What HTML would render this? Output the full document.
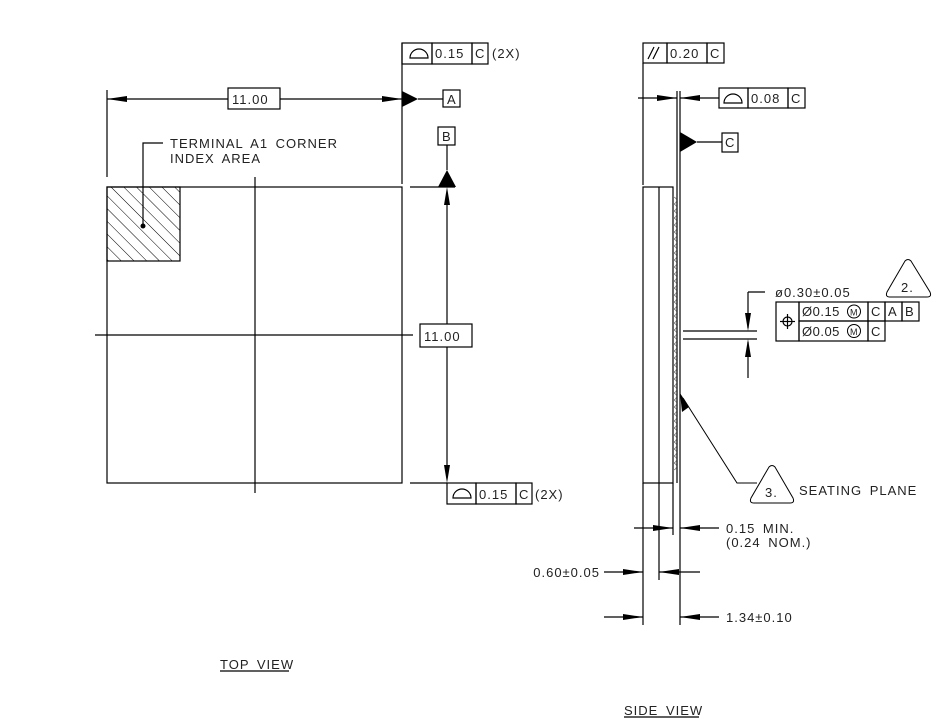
<!DOCTYPE html>
<html><head><meta charset="utf-8"><style>
html,body{margin:0;padding:0;background:#fff;}
svg{display:block;}
text{font-family:"Liberation Sans",sans-serif;font-size:13px;fill:#222;letter-spacing:1px;word-spacing:3px;}
</style></head><body>
<svg width="945" height="726" viewBox="0 0 945 726" xmlns="http://www.w3.org/2000/svg">
<defs>
<pattern id="h" patternUnits="userSpaceOnUse" width="9" height="9" patternTransform="rotate(-45)">
<line x1="0" y1="0" x2="0" y2="9" stroke="#000" stroke-width="1"/>
</pattern>
</defs>
<g stroke="#000" stroke-width="1.2" fill="none">
<rect x="107" y="187" width="295" height="296"/>
<rect x="107" y="187" width="73" height="74" fill="url(#h)"/>
<line x1="255" y1="177" x2="255" y2="493"/>
<line x1="95" y1="335" x2="413" y2="335"/>
<line x1="107" y1="90" x2="107" y2="177"/>
<line x1="107" y1="99" x2="228" y2="99"/>
<line x1="280" y1="99" x2="402" y2="99"/>
<rect x="228" y="88" width="52" height="21"/>
<line x1="402" y1="43" x2="402" y2="184"/>
<rect x="402" y="43" width="30" height="21"/>
<rect x="432" y="43" width="40" height="21"/>
<rect x="472" y="43" width="16" height="21"/>
<path d="M410 58 a9 9 0 0 1 18 0 z"/>
<line x1="418" y1="99" x2="443" y2="99"/>
<rect x="443" y="90" width="17" height="17"/>
<rect x="438" y="127" width="17" height="18"/>
<line x1="447" y1="145" x2="447" y2="170"/>
<line x1="410" y1="187" x2="455" y2="187"/>
<line x1="447" y1="193" x2="447" y2="324"/>
<line x1="447" y1="347" x2="447" y2="478"/>
<rect x="420" y="324" width="52" height="23"/>
<line x1="410" y1="483" x2="447" y2="483"/>
<rect x="447" y="483" width="29" height="21"/>
<rect x="476" y="483" width="40" height="21"/>
<rect x="516" y="483" width="16" height="21"/>
<path d="M453 498 a9 9 0 0 1 18 0 z"/>
<polyline points="163,143 143,143 143,226"/>
<rect x="643" y="187" width="30" height="296"/>
<line x1="659" y1="187" x2="659" y2="580"/>
<line x1="643" y1="483" x2="643" y2="625"/>
<line x1="673" y1="483" x2="673" y2="535"/>
<line x1="677" y1="91" x2="677" y2="483"/>
<line x1="680" y1="91" x2="680" y2="625"/>
<line x1="643" y1="63" x2="643" y2="185"/>
<rect x="643" y="43" width="24" height="20"/>
<rect x="667" y="43" width="40" height="20"/>
<rect x="707" y="43" width="17" height="20"/>
<line x1="648" y1="59" x2="654" y2="47"/><line x1="653" y1="59" x2="659" y2="47"/>
<line x1="638" y1="98" x2="677" y2="98"/>
<line x1="680" y1="98" x2="719" y2="98"/>
<rect x="719" y="88" width="29" height="20"/>
<rect x="748" y="88" width="40" height="20"/>
<rect x="788" y="88" width="17" height="20"/>
<path d="M724 103 a9 9 0 0 1 18 0 z"/>
<line x1="697" y1="142" x2="722" y2="142"/>
<rect x="722" y="133" width="16" height="19"/>
<path d="M673 197 a3.5 3.5 0 0 1 0 7 M673 204 a3.5 3.5 0 0 1 0 7 M673 211 a3.5 3.5 0 0 1 0 7 M673 218 a3.5 3.5 0 0 1 0 7 M673 225 a3.5 3.5 0 0 1 0 7 M673 232 a3.5 3.5 0 0 1 0 7 M673 239 a3.5 3.5 0 0 1 0 7 M673 246 a3.5 3.5 0 0 1 0 7 M673 253 a3.5 3.5 0 0 1 0 7 M673 260 a3.5 3.5 0 0 1 0 7 M673 267 a3.5 3.5 0 0 1 0 7 M673 274 a3.5 3.5 0 0 1 0 7 M673 281 a3.5 3.5 0 0 1 0 7 M673 288 a3.5 3.5 0 0 1 0 7 M673 295 a3.5 3.5 0 0 1 0 7 M673 302 a3.5 3.5 0 0 1 0 7 M673 309 a3.5 3.5 0 0 1 0 7 M673 316 a3.5 3.5 0 0 1 0 7 M673 323 a3.5 3.5 0 0 1 0 7 M673 330 a3.5 3.5 0 0 1 0 7 M673 337 a3.5 3.5 0 0 1 0 7 M673 344 a3.5 3.5 0 0 1 0 7 M673 351 a3.5 3.5 0 0 1 0 7 M673 358 a3.5 3.5 0 0 1 0 7 M673 365 a3.5 3.5 0 0 1 0 7 M673 372 a3.5 3.5 0 0 1 0 7 M673 379 a3.5 3.5 0 0 1 0 7 M673 386 a3.5 3.5 0 0 1 0 7 M673 393 a3.5 3.5 0 0 1 0 7 M673 400 a3.5 3.5 0 0 1 0 7 M673 407 a3.5 3.5 0 0 1 0 7 M673 414 a3.5 3.5 0 0 1 0 7 M673 421 a3.5 3.5 0 0 1 0 7 M673 428 a3.5 3.5 0 0 1 0 7 M673 435 a3.5 3.5 0 0 1 0 7 M673 442 a3.5 3.5 0 0 1 0 7 M673 449 a3.5 3.5 0 0 1 0 7 M673 456 a3.5 3.5 0 0 1 0 7 M673 463 a3.5 3.5 0 0 1 0 7" stroke="#777" stroke-width="0.8"/>
<line x1="683" y1="331" x2="757" y2="331"/>
<line x1="683" y1="339" x2="757" y2="339"/>
<line x1="748" y1="292" x2="748" y2="328"/>
<line x1="748" y1="342" x2="748" y2="378"/>
<line x1="748" y1="292" x2="765" y2="292"/>
<rect x="776" y="302" width="23" height="39"/>
<rect x="799" y="302" width="69" height="19"/>
<rect x="868" y="302" width="17" height="19"/>
<rect x="885" y="302" width="17" height="19"/>
<rect x="902" y="302" width="17" height="19"/>
<rect x="799" y="321" width="69" height="20"/>
<rect x="868" y="321" width="17" height="20"/>
<circle cx="787.5" cy="321.5" r="4.5"/>
<line x1="787.5" y1="314" x2="787.5" y2="329"/><line x1="780" y1="321.5" x2="795" y2="321.5"/>
<circle cx="854" cy="311.5" r="6.5" stroke-width="1"/>
<circle cx="854" cy="331" r="6.5" stroke-width="1"/>
<path d="M905 261 Q908 258 911 261 L930 292 Q932 297 927 297 L890 297 Q885 297 887 292 Z" stroke-width="1"/>
<path d="M769 467 Q772 464 775 467 L793 498 Q795 503 790 503 L754 503 Q749 503 751 498 Z" stroke-width="1"/>
<polyline points="683,398 737,483 757,483" stroke-width="1"/>
<line x1="634" y1="528" x2="673" y2="528"/>
<line x1="680" y1="528" x2="719" y2="528"/>
<line x1="604" y1="572" x2="643" y2="572"/>
<line x1="659" y1="572" x2="700" y2="572"/>
<line x1="604" y1="617" x2="643" y2="617"/>
<line x1="680" y1="617" x2="719" y2="617"/>
<line x1="220" y1="671" x2="289" y2="671"/>
<line x1="624" y1="717" x2="699" y2="717"/>
</g>
<g fill="#000" stroke="none">
<polygon points="107,99 127,96 127,102"/>
<polygon points="402,99 382,96 382,102"/>
<polygon points="402,91 418,99 402,107"/>
<polygon points="447,170 438,187 456,187"/>
<polygon points="447,187 444,205 450,205"/>
<polygon points="447,483 444,465 450,465"/>
<circle cx="143" cy="226" r="2.5"/>
<polygon points="677,98 657,95 657,101"/>
<polygon points="680,98 700,95 700,101"/>
<polygon points="680,132 697,142 680,152"/>
<polygon points="748,331 745,313 751,313"/>
<polygon points="748,339 745,357 751,357"/>
<polygon points="680,393 682,412 689,407"/>
<polygon points="673,528 653,525 653,531"/>
<polygon points="680,528 700,525 700,531"/>
<polygon points="643,572 623,569 623,575"/>
<polygon points="659,572 679,569 679,575"/>
<polygon points="643,617 623,614 623,620"/>
<polygon points="680,617 700,614 700,620"/>
</g>
<text x="232" y="104">11.00</text>
<text x="435" y="58">0.15</text><text x="475" y="58">C</text><text x="492" y="58">(2X)</text>
<text x="447" y="104">A</text>
<text x="442" y="141">B</text>
<text x="170" y="148">TERMINAL A1 CORNER</text>
<text x="170" y="163">INDEX AREA</text>
<text x="424" y="341">11.00</text>
<text x="479" y="499">0.15</text><text x="519" y="499">C</text><text x="535" y="499">(2X)</text>
<text x="670" y="58">0.20</text><text x="710" y="58">C</text>
<text x="751" y="103">0.08</text><text x="791" y="103">C</text>
<text x="725" y="147">C</text>
<text x="775" y="297">ø0.30±0.05</text>
<text x="802" y="316" style="letter-spacing:0.5px">Ø0.15</text><text x="850" y="315.5" style="font-size:9px;letter-spacing:0">M</text>
<text x="871" y="316">C</text><text x="888" y="316">A</text><text x="905" y="316">B</text>
<text x="802" y="336" style="letter-spacing:0.5px">Ø0.05</text><text x="850" y="335" style="font-size:9px;letter-spacing:0">M</text>
<text x="871" y="336">C</text>
<text x="901" y="292">2.</text>
<text x="765" y="497">3.</text>
<text x="799" y="495">SEATING PLANE</text>
<text x="726" y="533">0.15 MIN.</text>
<text x="726" y="547">(0.24 NOM.)</text>
<text x="600" y="577" text-anchor="end">0.60±0.05</text>
<text x="726" y="622">1.34±0.10</text>
<text x="220" y="669">TOP VIEW</text>
<text x="624" y="715">SIDE VIEW</text>
</svg>
</body></html>
